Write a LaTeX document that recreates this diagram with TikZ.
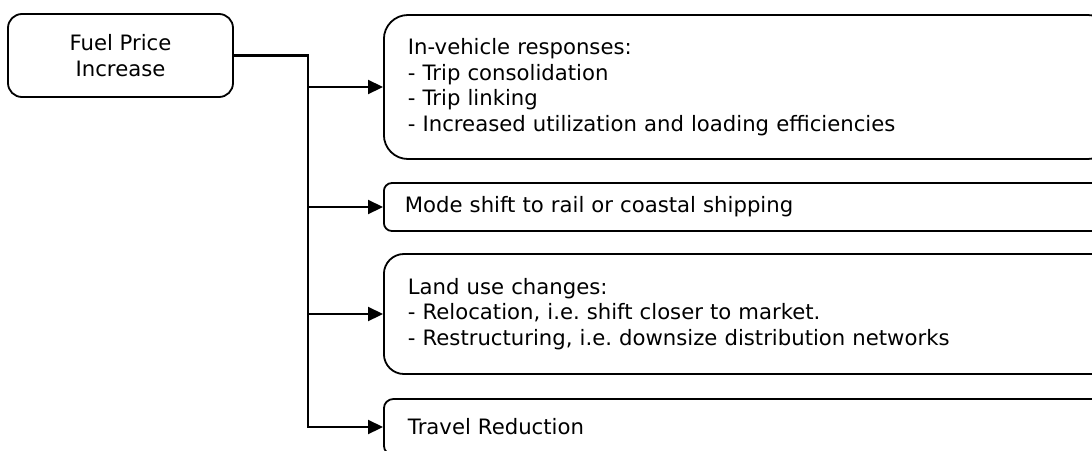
\documentclass[tikz,border=0pt]{standalone}
\usepackage{fontspec}
\setmainfont{DejaVu Sans}
\usetikzlibrary{arrows.meta}
\usetikzlibrary{positioning}
\frenchspacing

\begin{document}
\begin{tikzpicture}[x=0.5pt,y=-0.5pt,
    font=\fontsize{10.6}{12.8}\selectfont,
    line width=0.9pt,
    >={Triangle[length=7.5pt,width=7pt]},
    link/.style={line width=1.1pt},
    cause/.style={draw,align=center,minimum width=112.5pt,minimum height=41.5pt,
        rounded corners=7pt},
    effect/.style={draw,align=left,anchor=west,text width=340pt,inner xsep=12pt}]
\useasboundingbox (0,0) rectangle (1092,450);
\clip (0,0) rectangle (1092,450);
% cause
\node[cause] (fuel) at (120.5,55.5) {Fuel Price\\Increase};
% effects
\node[effect,minimum height=72pt,rounded corners=12pt] (inveh) at (383,87)
    {In-vehicle responses:\\
     - Trip consolidation\\
     - Trip linking\\
     - Increased utilization and loading efficiencies};
\node[effect,minimum height=24pt,rounded corners=4pt,inner xsep=10.5pt] (mode) at (383,207)
    {Mode shift to rail or coastal shipping};
\node[effect,minimum height=60pt,rounded corners=10pt] (land) at (383,314)
    {Land use changes:\\
     - Relocation, i.e. shift closer to market.\\
     - Restructuring, i.e. downsize distribution networks};
\node[effect,minimum height=28pt,rounded corners=4.7pt] (travel) at (383,427)
    {Travel Reduction};
% connectors
\coordinate (trunk) at (308,0 |- fuel.east);
\draw[link,->] (fuel.east) -- (trunk) |- (travel.west);
\foreach \b in {inveh,mode,land}
    \draw[link,->] (trunk |- \b.west) -- (\b.west);
\end{tikzpicture}
\end{document}
